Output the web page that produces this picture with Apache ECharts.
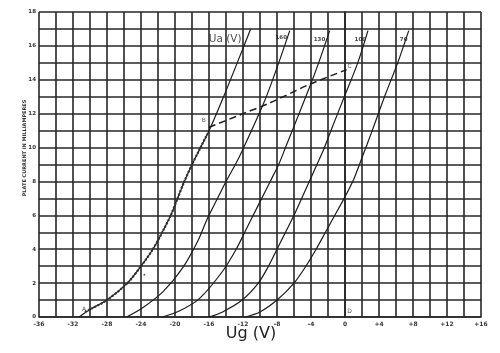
<!DOCTYPE html>
<html lang="en">
<head>
    <meta charset="UTF-8">
    <title>Ua-Ug</title>
    <script src="https://cdn.jsdelivr.net/npm/echarts@6/dist/echarts.min.js"></script>
    <style>
        body{margin:0;background:#fff;}
        #main{width:500px;height:353px;}
    </style>
</head>
<body>
<div id="main"></div>
<script>
    // grid voltage Ug (V) / plate current (mA)
    var curveUa = [[-31.3,0],[-29.8,0.5],[-28.0,1.0],[-25.6,2.0],[-24.0,3.0],[-22.6,4.0],[-21.5,5.0],[-20.5,6.0],
        [-19.7,7.0],[-18.9,8.0],[-18.0,9.0],[-17.2,9.8],[-15.9,11.1],[-14.2,13.1],[-12.6,15.1],[-11.1,17.0]];
    var curve160 = [[-25.7,0],[-23.8,0.55],[-21.4,1.5],[-19.1,2.9],[-17.3,4.5],[-16.2,5.8],[-15.1,6.9],[-14.0,8.0],
        [-12.9,9.0],[-12.1,9.8],[-9.5,12.7],[-7.8,15.0],[-6.5,16.9]];
    var curve130 = [[-21.5,0],[-19.5,0.35],[-17.1,1.1],[-14.4,2.7],[-12.8,4.0],[-11.8,5.0],[-10.8,6.0],[-9.8,7.0],
        [-8.8,8.0],[-7.8,9.0],[-7.0,10.0],[-6.2,11.0],[-4.3,13.4],[-3.1,15.0],[-1.8,16.9]];
    var curve100 = [[-16.0,0],[-14.4,0.3],[-12.1,1.0],[-10.2,2.0],[-9.0,3.0],[-8.0,4.0],[-7.0,5.0],[-6.0,6.0],
        [-5.1,7.0],[-4.2,8.0],[-3.3,9.0],[-2.5,9.9],[-1.5,11.2],[0,13.1],[1.5,15.0],[2.7,16.9]];
    var curve70 = [[-11.8,0],[-10.0,0.3],[-8.0,1.0],[-6.0,2.0],[-4.6,3.0],[-3.4,4.0],[-2.3,5.0],[-1.2,6.0],
        [-0.1,7.0],[1.0,8.1],[2.0,9.4],[3.2,11.0],[4.8,13.2],[6.2,15.0],[7.5,16.9]];
    // heavy dotted part A-B and dashed load line B-C
    var pathAB = [[-30.6,0.3],[-29.8,0.5],[-28.0,1.0],[-25.6,2.0],[-24.0,3.0],[-22.6,4.0],[-21.5,5.0],[-20.5,6.0],
        [-19.7,7.0],[-18.9,8.0],[-18.0,9.0],[-17.2,9.8],[-16.2,10.8]];
    var lineBC = [[-16.0,11.2],[-12.0,12.0],[-9.0,12.6],[-4.3,13.7],[0.2,14.6]];

    var curveNames = ['Ua (V)','160','130','100','70'];
    var curveNamePos = [[-14.1,16.4],[-7.5,16.5],[-3.0,16.4],[1.8,16.4],[6.9,16.4]];
    var pointNames = ['A','B','C','D'];
    var pointPos = [[-30.7,0.45],[-16.6,11.6],[0.55,14.8],[0.55,0.3]];
    var specks = [[-23.6,2.5]];

    var xTicks = [-36,-32,-28,-24,-20,-16,-12,-8,-4,0,4,8,12,16];
    var yTicks = [0,2,4,6,8,10,12,14,16,18];

    var ink = '#1c1c1c';
    var gridLine = {color:'#262626',width:1.6};

    function curve(data){
        return {
            type:'line',
            data:data,
            smooth:0.3,
            symbol:'none',
            lineStyle:{color:ink,width:1.2},
            silent:true
        };
    }

    var labelData = [];
    for(var i=0;i<curveNames.length;i++){
        labelData.push({
            value:curveNamePos[i],
            label:i===0
                ? {formatter:curveNames[i],fontSize:10.5,color:'#222',fontFamily:'"DejaVu Sans", sans-serif'}
                : {formatter:curveNames[i],fontSize:5.5,fontWeight:'bold',color:'#111',fontFamily:'"DejaVu Sans", sans-serif'}
        });
    }
    for(var j=0;j<pointNames.length;j++){
        labelData.push({
            value:pointPos[j],
            label:{formatter:pointNames[j],fontSize:6,color:'#222',fontFamily:'"DejaVu Sans", sans-serif'}
        });
    }

    var myCharts = echarts.init(document.getElementById('main'));
    var option = {
        backgroundColor:'#fff',
        animation:false,
        grid:{left:39,right:19,top:12,bottom:36,containLabel:false},
        xAxis:{
            type:'value',
            min:xTicks[0],
            max:xTicks[xTicks.length-1],
            interval:4,
            axisLine:{show:true,lineStyle:gridLine},
            axisTick:{show:false},
            axisLabel:{
                fontSize:6,
                color:'#333',
                margin:4,
                fontFamily:'"DejaVu Sans", sans-serif',
                fontWeight:'bold',
                formatter:function(v){ return v>0 ? '+'+v : String(v); }
            },
            splitLine:{show:true,lineStyle:gridLine},
            minorTick:{show:false,splitNumber:2},
            minorSplitLine:{show:true,lineStyle:gridLine}
        },
        yAxis:{
            type:'value',
            min:yTicks[0],
            max:yTicks[yTicks.length-1],
            interval:2,
            axisLine:{show:true,lineStyle:gridLine},
            axisTick:{show:false},
            axisLabel:{
                fontSize:5.5,
                color:'#333',
                margin:3,
                fontWeight:'bold',
                fontFamily:'"DejaVu Sans", sans-serif'
            },
            splitLine:{show:true,lineStyle:gridLine},
            minorTick:{show:false,splitNumber:2},
            minorSplitLine:{show:true,lineStyle:gridLine}
        },
        graphic:[
            {
                type:'text',
                x:25,
                y:148,
                rotation:Math.PI/2,
                style:{
                    text:'PLATE CURRENT IN MILLIAMPERES',
                    align:'center',
                    verticalAlign:'middle',
                    fontSize:5,
                    fontWeight:'bold',
                    fill:'#333',
                    fontFamily:'"DejaVu Sans", sans-serif'
                }
            },
            {
                type:'text',
                x:251,
                y:334,
                style:{
                    text:'Ug (V)',
                    align:'center',
                    verticalAlign:'middle',
                    fontSize:16,
                    fill:'#222',
                    fontFamily:'"DejaVu Sans", sans-serif'
                }
            }
        ],
        series:[
            curve(curveUa),
            curve(curve160),
            curve(curve130),
            curve(curve100),
            curve(curve70),
            {
                type:'line',
                data:pathAB,
                smooth:0.3,
                symbol:'none',
                lineStyle:{color:'#333',width:2.2,type:[2,1.5]},
                silent:true
            },
            {
                type:'line',
                data:lineBC,
                smooth:0.3,
                symbol:'none',
                lineStyle:{color:ink,width:1.5,type:[7,4]},
                silent:true
            },
            {
                type:'scatter',
                data:specks,
                symbolSize:2,
                itemStyle:{color:'#333'},
                silent:true
            },
            {
                type:'scatter',
                data:labelData,
                symbolSize:0,
                label:{show:true,position:'inside'},
                silent:true
            }
        ]
    };
    myCharts.setOption(option);
</script>
</body>
</html>
